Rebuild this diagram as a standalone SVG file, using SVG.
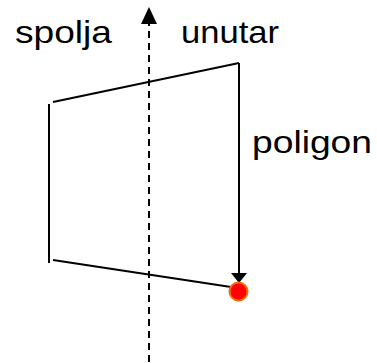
<svg xmlns="http://www.w3.org/2000/svg" width="377" height="363" viewBox="0 0 377 363">
<defs>
<style>
.t{font-family:"Liberation Sans",Arial,sans-serif;font-size:32px;fill:#000}
.ln{stroke:#000;stroke-width:2;fill:none}
</style>
</defs>
<rect width="377" height="363" fill="#fff"/>
<g id="connectors">
<line x1="149" y1="362" x2="149" y2="16" class="ln" stroke-dasharray="7,5"/>
<path d="M141,24 L149,7 L157,24 Z" fill="#000"/>
<line x1="239" y1="63" x2="239" y2="274" class="ln"/>
<path d="M231,273 L247,273 L239,283 Z" fill="#000"/>
</g>
<g id="polygon">
<line x1="53" y1="102" x2="239" y2="63" class="ln"/>
<line x1="49" y1="104" x2="49" y2="263" class="ln"/>
<line x1="53" y1="260" x2="231" y2="287" class="ln"/>
</g>
<g id="point">
<circle cx="238.5" cy="291.5" r="9" fill="#ff0000" stroke="#ff6a00" stroke-width="2"/>
</g>
<g id="labels">
<text class="t" x="15" y="43" textLength="97" lengthAdjust="spacingAndGlyphs">spolja</text>
<text class="t" x="181" y="43" textLength="98" lengthAdjust="spacingAndGlyphs">unutar</text>
<text class="t" x="252" y="153" textLength="120" lengthAdjust="spacingAndGlyphs">poligon</text>
</g>
</svg>
